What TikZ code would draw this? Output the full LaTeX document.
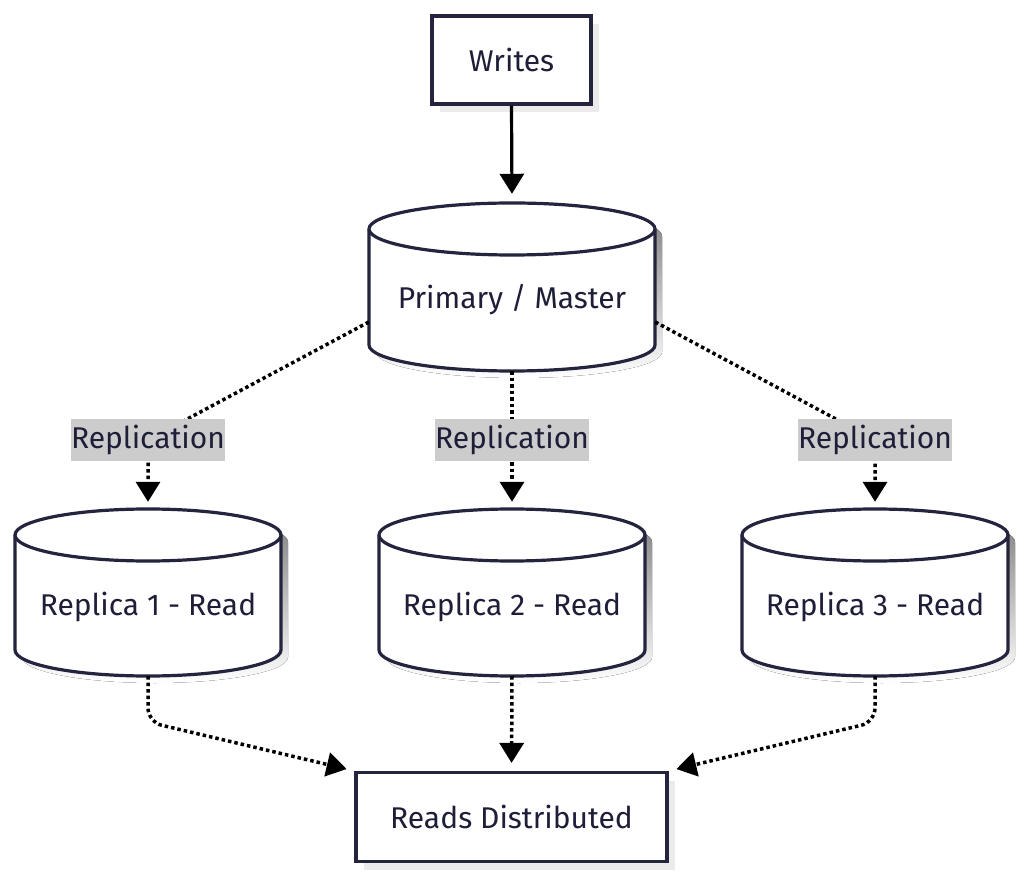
\documentclass[tikz,border=0pt]{standalone}
\usepackage{fontspec}
\setmainfont{Fira Sans}
\usetikzlibrary{arrows.meta,shadows,calc}
\definecolor{ink}{HTML}{1E1E38}
\definecolor{edgec}{HTML}{24243E}
\definecolor{shade}{HTML}{EBEBEB}
\definecolor{lbl}{HTML}{CCCCCC}
\newcommand\dbcyl[5]{% cx, top ellipse cy, bottom ellipse cy, rx, ry
  \fill[shade] (#1-#4+7,#2-7) -- (#1-#4+7,#3-7) arc[start angle=180,end angle=360,x radius=#4,y radius=#5] -- (#1+#4+7,#2-7) arc[start angle=0,end angle=180,x radius=#4,y radius=#5] -- cycle;
  \filldraw[cylline] (#1-#4,#2) -- (#1-#4,#3) arc[start angle=180,end angle=360,x radius=#4,y radius=#5] -- (#1+#4,#2) arc[start angle=0,end angle=180,x radius=#4,y radius=#5] -- cycle;
  \draw[cylline] (#1-#4,#2) arc[start angle=180,end angle=360,x radius=#4,y radius=#5];
}
\begin{document}
\begin{tikzpicture}[x=1pt,y=1pt,
  txt/.style={text=ink, font=\fontsize{30}{36}\selectfont, inner sep=0pt},
  box/.style={txt, draw=edgec, line width=3.2pt, fill=white, minimum height=88pt,
    drop shadow={shadow xshift=8pt, shadow yshift=-8pt, fill=shade, opacity=1}},
  cylline/.style={draw=edgec, fill=white, line width=3.2pt},
  holder/.style={draw=none, inner sep=0pt},
  lab/.style={txt, fill=lbl, minimum width=153pt, minimum height=41pt},
  tip/.style={-{Triangle[width=24pt,length=20pt]}},
  solidedge/.style={draw=black, line width=3.2pt, tip},
  dotedge/.style={draw=black, line width=3.5pt, dash pattern=on 3.5pt off 3pt, tip, rounded corners=14pt},
]
\useasboundingbox (0,0) rectangle (1024,879);

% nodes
\node[box, minimum width=159pt] (W) at (511.5,819) {Writes};

\dbcyl{512}{650}{534}{143}{26}
\node[holder, minimum width=286pt, minimum height=168pt] (P) at (512,592) {};
\node[txt] (Pt) at (512,579) {Primary / Master};

\dbcyl{148}{344}{229}{133}{26}
\node[holder, minimum width=266pt, minimum height=167pt] (R1) at (148,286.5) {};
\node[txt] (R1t) at (148,272) {Replica 1 - Read};

\dbcyl{512}{344}{229}{133}{26}
\node[holder, minimum width=266pt, minimum height=167pt] (R2) at (512,286.5) {};
\node[txt] (R2t) at (512,272) {Replica 2 - Read};

\dbcyl{875}{344}{229}{133}{26}
\node[holder, minimum width=266pt, minimum height=167pt] (R3) at (875,286.5) {};
\node[txt] (R3t) at (875,272) {Replica 3 - Read};

\node[box, minimum width=311pt, minimum height=89pt] (RD) at (511.5,62) {Reads Distributed};

% connectors
\draw[solidedge, shorten >=9pt] (W.south) -- (P.north);

\draw[dotedge, rounded corners=0pt, shorten >=7pt] ([yshift=-35pt]P.west) -- (148,439) -- (R1.north);
\draw[dotedge, shorten >=7pt] (P.south) -- (R2.north);
\draw[dotedge, rounded corners=0pt, shorten >=7pt] ([yshift=-35pt]P.east) -- (875,439) -- (R3.north);

\node[lab] (L1) at (148,439) {Replication};
\node[lab] (L2) at (512,439) {Replication};
\node[lab] (L3) at (875,439) {Replication};

\coordinate (c1) at (148,157);
\coordinate (c3) at (875,157);
\draw[dotedge, shorten >=8pt] (R1.south) -- (c1) -- (RD.north west);
\draw[dotedge, shorten >=8pt] (R2.south) -- (RD.north);
\draw[dotedge, shorten >=8pt] (R3.south) -- (c3) -- (RD.north east);
\end{tikzpicture}
\end{document}
